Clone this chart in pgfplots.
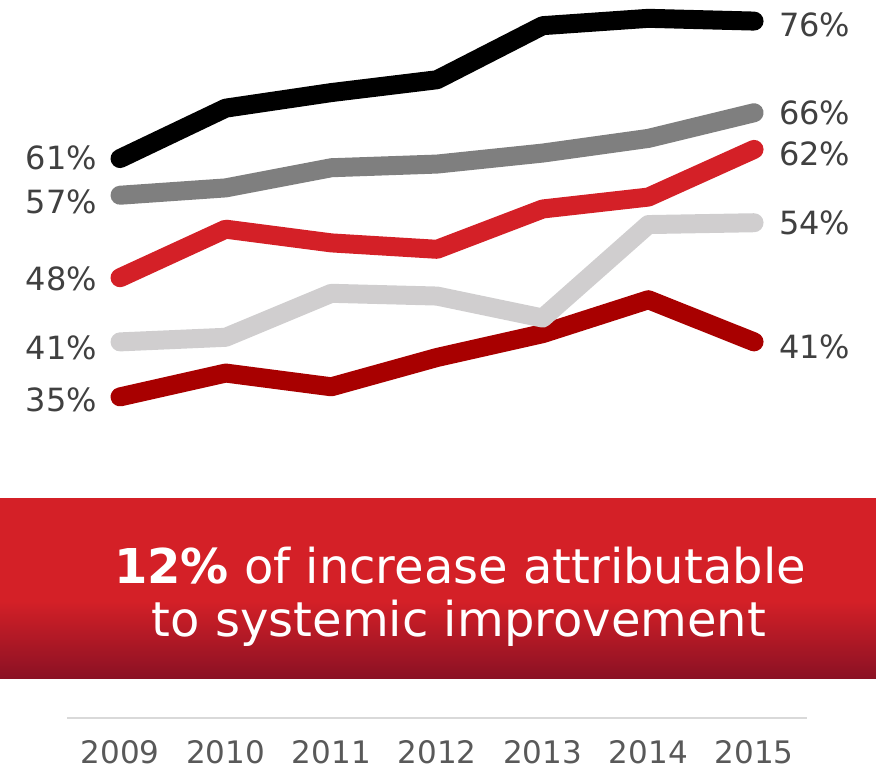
\documentclass[border=0pt]{standalone}
\usepackage{pgfplots}
\pgfplotsset{compat=1.18}
\usepackage{fontspec}
\setmainfont{DejaVu Sans}

\definecolor{sblack}{HTML}{000000}
\definecolor{sgray}{HTML}{7F7F7F}
\definecolor{sred}{HTML}{D42027}
\definecolor{slight}{HTML}{D0CECF}
\definecolor{sdark}{HTML}{A80000}
\definecolor{bannerred}{HTML}{D42027}
\definecolor{bannerdark}{HTML}{8A1124}
\definecolor{labelgray}{HTML}{404040}
\definecolor{yeargray}{HTML}{595959}
\definecolor{axisgray}{HTML}{D9D9D9}

\begin{document}
\begin{tikzpicture}[x=1pt,y=1pt]
\useasboundingbox (0,0) rectangle (876,773);
% banner
\fill[bannerred] (0,172) rectangle (876,275);
\shade[top color=bannerred,bottom color=bannerdark] (0,94) rectangle (876,172.5);
\node[anchor=base,text=white,inner sep=0pt,font=\fontsize{48}{53}\selectfont] at (460,189) {\textbf{12\%} of increase attributable};
\node[anchor=base,text=white,inner sep=0pt,font=\fontsize{48}{53}\selectfont] at (459,136) {to systemic improvement};

\begin{axis}[
  at={(67.2pt,55.3pt)}, anchor=south west,
  scale only axis, width=739.7pt, height=717.7pt,
  xmin=2008.5, xmax=2015.5, ymin=0, ymax=78.3,
  axis y line=none, axis x line*=bottom,
  x axis line style={color=axisgray, line width=2pt},
  xtick={2009,2010,2011,2012,2013,2014,2015},
  xticklabels={2009,2010,2011,2012,2013,2014,2015},
  major tick length=0pt, xtick style={draw=none},
  xticklabel style={anchor=base, inner sep=0pt, yshift=-46pt, text=yeargray, font=\fontsize{31}{37}\selectfont},
  clip=false,
  every axis plot/.append style={line width=19pt, line cap=round, line join=round, mark=none},
]
\addplot[sdark] coordinates {(2009,35) (2010,37.6) (2011,36.1) (2012,39.3) (2013,41.9) (2014,45.6) (2015,41)};
\addplot[slight] coordinates {(2009,41) (2010,41.5) (2011,46.3) (2012,46.0) (2013,43.6) (2014,53.8) (2015,54)};
\addplot[sred] coordinates {(2009,48) (2010,53.3) (2011,51.8) (2012,51.1) (2013,55.5) (2014,56.8) (2015,62)};
\addplot[sgray] coordinates {(2009,57) (2010,57.8) (2011,60.0) (2012,60.4) (2013,61.6) (2014,63.2) (2015,66)};
\addplot[sblack] coordinates {(2009,61) (2010,66.5) (2011,68.2) (2012,69.6) (2013,75.5) (2014,76.3) (2015,76)};

% start labels
\begin{scope}[every node/.style={text=labelgray, font=\fontsize{32}{38}\selectfont, inner sep=0pt}]
\node[anchor=east, xshift=-23pt, yshift=1pt] at (axis cs:2009,61) {61\%};
\node[anchor=east, xshift=-23pt, yshift=-7pt] at (axis cs:2009,57) {57\%};
\node[anchor=east, xshift=-23pt, yshift=-1pt] at (axis cs:2009,48) {48\%};
\node[anchor=east, xshift=-23pt, yshift=-6pt] at (axis cs:2009,41) {41\%};
\node[anchor=east, xshift=-23pt, yshift=-3pt] at (axis cs:2009,35) {35\%};
% end labels
\node[anchor=west, xshift=25pt, yshift=-4pt] at (axis cs:2015,76) {76\%};
\node[anchor=west, xshift=25pt] at (axis cs:2015,66) {66\%};
\node[anchor=west, xshift=25pt, yshift=-4pt] at (axis cs:2015,62) {62\%};
\node[anchor=west, xshift=25pt] at (axis cs:2015,54) {54\%};
\node[anchor=west, xshift=25pt, yshift=-5pt] at (axis cs:2015,41) {41\%};
\end{scope}
\end{axis}
\end{tikzpicture}
\end{document}
